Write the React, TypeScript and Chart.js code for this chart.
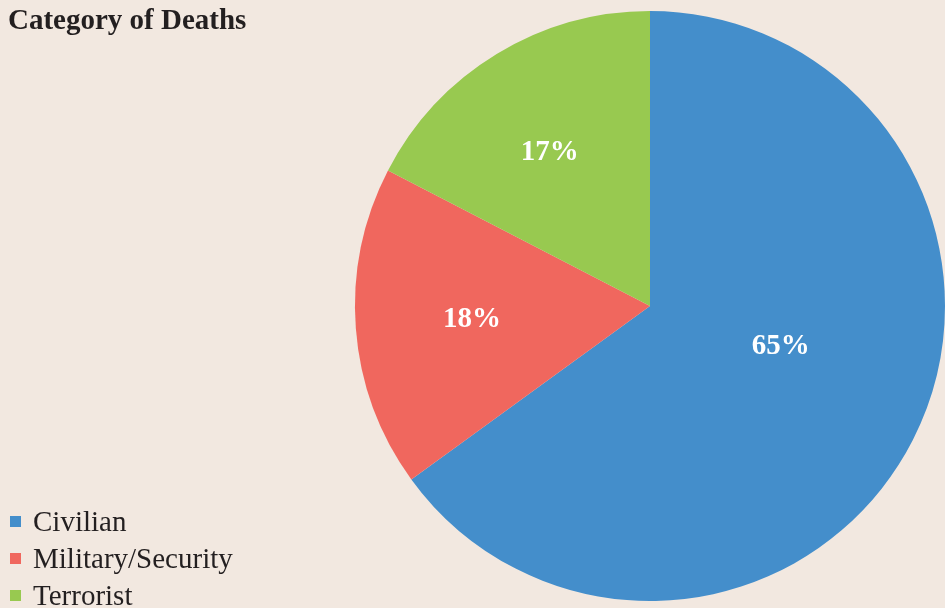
import React, { useEffect, useRef } from "react";
import { Chart, registerables } from "chart.js";

Chart.register(...registerables);

const categories = ["Civilian", "Military/Security", "Terrorist"];
const values = [65, 17.6, 17.4];
const valueLabels = ["65%", "18%", "17%"];
const colors = ["#448ECB", "#F0675E", "#98C950"];

const BG = "#F2E8E0";
const SERIF = '"Liberation Serif", "Times New Roman", "DejaVu Serif", serif';

// per-slice label placement tweaks (angle shift in degrees, radius fraction)
const labelShift = [-9.7, 0, -1.9];
const labelFrac = [0.464, 0.605, 0.62];

const labelPlugin = {
  id: "sliceLabels",
  afterDatasetsDraw(chart: any) {
    const ctx = chart.ctx;
    const meta = chart.getDatasetMeta(0);
    ctx.save();
    ctx.fillStyle = "#ffffff";
    ctx.font = `bold 29px ${SERIF}`;
    ctx.textAlign = "center";
    ctx.textBaseline = "middle";
    meta.data.forEach((arc: any, i: number) => {
      const p = arc.getProps(["x", "y", "startAngle", "endAngle", "outerRadius"], true);
      const mid = (p.startAngle + p.endAngle) / 2 + (labelShift[i] * Math.PI) / 180;
      const r = p.outerRadius * labelFrac[i];
      ctx.fillText(valueLabels[i], p.x + Math.cos(mid) * r, p.y + Math.sin(mid) * r);
    });
    ctx.restore();
  },
};

export default function App() {
  const ref = useRef<HTMLCanvasElement | null>(null);

  useEffect(() => {
    document.body.style.margin = "0";
    document.body.style.background = BG;
    const chart = new Chart(ref.current as HTMLCanvasElement, {
      type: "pie",
      data: {
        labels: categories,
        datasets: [
          {
            data: values,
            backgroundColor: colors,
            borderWidth: 0,
          },
        ],
      },
      options: {
        animation: false,
        responsive: false,
        maintainAspectRatio: false,
        layout: { padding: { left: 355, top: 11, bottom: 7, right: 0 } },
        plugins: {
          legend: { display: false },
          title: { display: false },
          tooltip: { enabled: false },
        },
      },
      plugins: [labelPlugin],
    });
    return () => chart.destroy();
  }, []);

  return (
    <div
      style={{
        position: "relative",
        width: 945,
        height: 608,
        background: BG,
        overflow: "hidden",
        fontFamily: SERIF,
      }}
    >
      <canvas ref={ref} width={945} height={608} style={{ position: "absolute", left: 0, top: 0 }} />
      <div
        style={{
          position: "absolute",
          left: 8,
          top: 1,
          fontSize: 29,
          fontWeight: "bold",
          color: "#231F20",
          lineHeight: "36px",
        }}
      >
        Category of Deaths
      </div>
      <div style={{ position: "absolute", left: 10, top: 503 }}>
        {categories.map((c, i) => (
          <div
            key={c}
            style={{
              display: "flex",
              alignItems: "center",
              height: 37,
              fontSize: 29,
              color: "#231F20",
            }}
          >
            <span
              style={{
                display: "inline-block",
                width: 11,
                height: 11,
                background: colors[i],
                marginRight: 12,
              }}
            />
            <span>{c}</span>
          </div>
        ))}
      </div>
    </div>
  );
}
